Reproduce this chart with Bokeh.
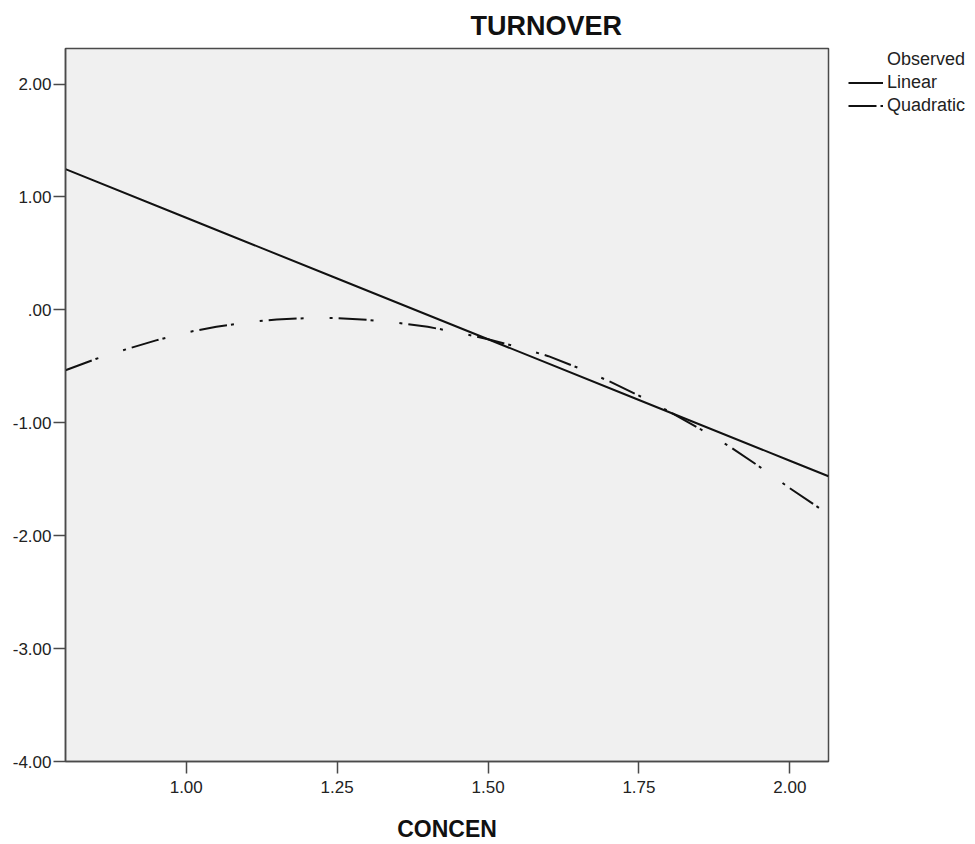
from bokeh.plotting import figure
from bokeh.layouts import row
from bokeh.models import FixedTicker, Legend, LegendItem, Range1d
from bokeh.embed import file_html
from bokeh.resources import INLINE

# ---- data ----
concen_linear = [0.80, 1.00, 1.25, 1.50, 1.75, 2.00, 2.064]
turnover_linear = [1.246, 0.816, 0.278, -0.26, -0.798, -1.336, -1.474]

concen_quad = [0.80, 0.85, 0.90, 0.95, 1.00, 1.05, 1.10, 1.15, 1.20, 1.25, 1.30,
               1.35, 1.40, 1.45, 1.50, 1.55, 1.60, 1.65, 1.70, 1.75, 1.80, 1.85,
               1.90, 1.95, 2.00, 2.064]
turnover_quad = [-0.535, -0.435, -0.35, -0.27, -0.20, -0.15, -0.11, -0.085, -0.073,
                 -0.073, -0.088, -0.115, -0.15, -0.20, -0.26, -0.33, -0.41, -0.515,
                 -0.63, -0.76, -0.90, -1.05, -1.21, -1.39, -1.58, -1.81]

concen_observed = []
turnover_observed = []

series_labels = ["Observed", "Linear", "Quadratic"]

x_ticks = [1.00, 1.25, 1.50, 1.75, 2.00]
x_tick_labels = ["1.00", "1.25", "1.50", "1.75", "2.00"]
y_ticks = [2, 1, 0, -1, -2, -3, -4]
y_tick_labels = ["2.00", "1.00", ".00", "-1.00", "-2.00", "-3.00", "-4.00"]

FONT = "Liberation Sans"
AXIS_COL = "#4a4a4a"
LINE_COL = "#111111"
QUAD_DASH = "28 4 3 26 3 6"

p = figure(width=830, height=844, output_backend="svg", toolbar_location=None,
           x_range=Range1d(0.80, 2.064), y_range=Range1d(-4.0, 2.315),
           min_border_left=65, min_border_right=2, min_border_top=48,
           min_border_bottom=78)

p.background_fill_color = "#f0f0f0"
p.border_fill_color = "white"
p.outline_line_color = AXIS_COL
p.outline_line_width = 1.5
p.grid.visible = False

# title
p.title.text = "TURNOVER"
p.title.text_font = FONT
p.title.text_font_size = "27px"
p.title.text_font_style = "bold"
p.title.text_color = "#111111"
p.title.align = "left"
p.title.offset = 405
p.title.standoff = 15

# axes
p.xaxis.ticker = FixedTicker(ticks=x_ticks)
p.xaxis.major_label_overrides = dict(zip(x_ticks, x_tick_labels))
p.yaxis.ticker = FixedTicker(ticks=y_ticks)
p.yaxis.major_label_overrides = dict(zip(y_ticks, y_tick_labels))
for ax in (p.xaxis[0], p.yaxis[0]):
    ax.axis_line_color = AXIS_COL
    ax.axis_line_width = 1.5
    ax.major_tick_line_color = AXIS_COL
    ax.major_tick_line_width = 1.5
    ax.major_tick_in = 0
    ax.major_tick_out = 12
    ax.minor_tick_line_color = None
    ax.major_label_text_font = FONT
    ax.major_label_text_font_size = "17px"
    ax.major_label_text_color = "#222222"
p.xaxis.major_label_standoff = 7
p.yaxis.major_label_standoff = 2
p.xaxis.axis_label = "CONCEN"
p.xaxis.axis_label_text_font = FONT
p.xaxis.axis_label_text_font_size = "23px"
p.xaxis.axis_label_text_font_style = "bold"
p.xaxis.axis_label_text_color = "#111111"
p.xaxis.axis_label_standoff = 20

# glyphs
p.scatter(concen_observed, turnover_observed, size=6, fill_alpha=0, line_alpha=0)
p.line(concen_linear, turnover_linear, line_color=LINE_COL, line_width=2)
p.line(concen_quad, turnover_quad, line_color=LINE_COL, line_width=2,
       line_dash=QUAD_DASH)

# legend panel (separate canvas to the right of the plot); its ranges keep
# the series themselves out of view so that only the legend shows
lg = figure(width=145, height=844, output_backend="svg", toolbar_location=None,
            x_range=Range1d(10, 11), y_range=Range1d(10, 11), title=None,
            x_axis_location=None, y_axis_location=None,
            min_border=0, min_border_left=0, min_border_right=0,
            min_border_top=0, min_border_bottom=0)
lg.outline_line_color = None
lg.grid.visible = False
lg.background_fill_color = "white"
lg.border_fill_color = "white"
l_obs = lg.scatter(concen_observed, turnover_observed, size=6, fill_alpha=0, line_alpha=0)
l_lin = lg.line(concen_linear, turnover_linear, line_color=LINE_COL, line_width=2)
l_quad = lg.line(concen_quad, turnover_quad, line_color=LINE_COL, line_width=2,
                 line_dash=QUAD_DASH)

legend = Legend(items=[LegendItem(label=series_labels[0], renderers=[l_obs]),
                       LegendItem(label=series_labels[1], renderers=[l_lin]),
                       LegendItem(label=series_labels[2], renderers=[l_quad])],
                location=(18, 644), margin=0, padding=0, spacing=0,
                label_height=23, glyph_height=23, glyph_width=35,
                label_standoff=4, label_text_font=FONT,
                label_text_font_size="18px", label_text_color="#222222",
                border_line_color=None, background_fill_alpha=0)
lg.add_layout(legend, "center")

layout = row(p, lg, spacing=0)
open("out.html", "w").write(file_html(layout, INLINE))
